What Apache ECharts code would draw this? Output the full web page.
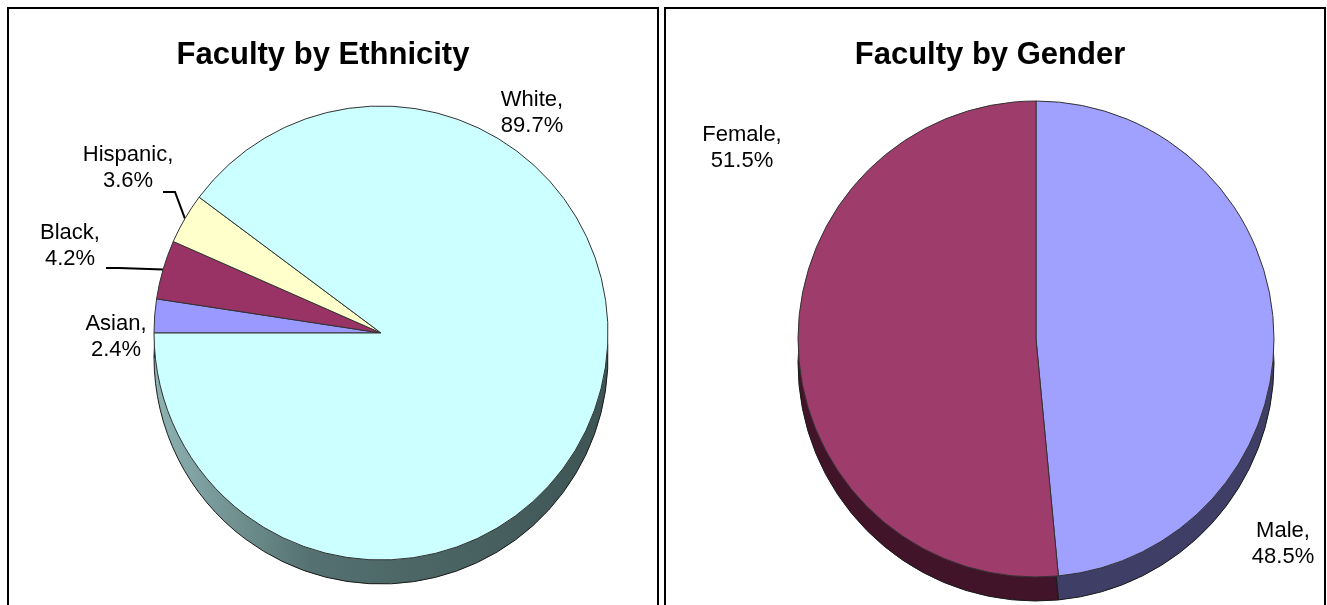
<!DOCTYPE html>
<html>
<head>
<meta charset="utf-8">
<script src="https://cdn.jsdelivr.net/npm/echarts@6/dist/echarts.min.js"></script>
<style>
  html, body { margin: 0; padding: 0; background: #fff; }
  #main { width: 1327px; height: 605px; }
</style>
</head>
<body>
<div id="main"></div>
<script>
var myChart = echarts.init(document.getElementById('main'));

// data
var ethnicNames = ['Asian', 'Black', 'Hispanic', 'White'];
var ethnicValues = [2.4, 4.2, 3.6, 89.7];
var genderNames = ['Male', 'Female'];
var genderValues = [48.5, 51.5];

var ethnicTop = ['#9999ff', '#993366', '#ffffcc', '#ccffff'];
var ethnicSide = ['#4c4c80', '#4a1631', '#80806a',
  { type: 'linear', x: 0, y: 0, x2: 1, y2: 0, colorStops: [
    { offset: 0, color: '#8fb3b3' }, { offset: 0.35, color: '#547070' }, { offset: 1, color: '#3e5454' }] }];
var genderTop = ['#a0a0ff', '#9e3c6b'];
var genderSide = ['#3e3e66', '#41142a'];

// where the labels sit (centre of text block) and leader line knees
var ethnicLabelPos = [
  { x: 116, y: 337 },
  { x: 70, y: 246, line: [[119, 268], [106, 268]] },
  { x: 128, y: 168, line: [[175, 192], [163, 192]] },
  { x: 532, y: 113 }
];
var genderLabelPos = [
  { x: 1283, y: 544 },
  { x: 742, y: 148 }
];

var FONT = '"Liberation Sans", Arial, sans-serif';
var depth = 24;
var leftPie = { center: [381, 333], r: 227 };
var rightPie = { center: [1036, 339], r: 238 };

function items(names, values, colors, hideLines) {
  return names.map(function (n, i) {
    var d = { name: n, value: values[i], itemStyle: { color: colors[i] } };
    if (hideLines && !hideLines[i]) d.labelLine = { show: false };
    return d;
  });
}

function layoutFn(pos) {
  return function (params) {
    var p = pos[params.dataIndex];
    var out = { x: p.x, y: p.y, align: 'center', verticalAlign: 'middle', hideOverlap: false };
    if (p.line && params.labelLinePoints) {
      out.labelLinePoints = [params.labelLinePoints[0]].concat(p.line);
    }
    return out;
  };
}

var labelStyle = {
  show: true,
  formatter: '{b},\n{c}%',
  fontFamily: FONT,
  fontSize: 22,
  lineHeight: 26,
  color: '#000',
  align: 'center',
  width: 130,
  overflow: 'none'
};

var option = {
  animation: false,
  graphic: [
    { type: 'rect', shape: { x: 8, y: 8, width: 650, height: 640 }, style: { fill: 'none', stroke: '#000', lineWidth: 2 }, z: 10 },
    { type: 'rect', shape: { x: 665, y: 8, width: 660, height: 640 }, style: { fill: 'none', stroke: '#000', lineWidth: 2 }, z: 10 },
    { type: 'text', x: 323, y: 55, style: { text: 'Faculty by Ethnicity', font: 'bold 31px ' + FONT, fill: '#000', textAlign: 'center', textVerticalAlign: 'middle' }, z: 10 },
    { type: 'text', x: 990, y: 55, style: { text: 'Faculty by Gender', font: 'bold 31px ' + FONT, fill: '#000', textAlign: 'center', textVerticalAlign: 'middle' }, z: 10 }
  ],
  series: [
    {
      // side wall of ethnicity pie
      type: 'pie', silent: true, z: 1,
      center: [leftPie.center[0], leftPie.center[1] + depth],
      radius: leftPie.r, startAngle: 180, clockwise: true,
      label: { show: false }, labelLine: { show: false },
      itemStyle: { borderColor: '#1a1a1a', borderWidth: 1 },
      data: items(ethnicNames, ethnicValues, ethnicSide)
    },
    {
      type: 'pie', silent: true, z: 2,
      center: leftPie.center,
      radius: leftPie.r, startAngle: 180, clockwise: true,
      avoidLabelOverlap: false,
      itemStyle: { borderColor: '#333', borderWidth: 1 },
      label: labelStyle,
      labelLine: { show: true, lineStyle: { color: '#000', width: 2 } },
      labelLayout: layoutFn(ethnicLabelPos),
      data: items(ethnicNames, ethnicValues, ethnicTop, [false, true, true, false])
    },
    {
      // side wall of gender pie
      type: 'pie', silent: true, z: 1,
      center: [rightPie.center[0], rightPie.center[1] + depth],
      radius: rightPie.r, startAngle: 90, clockwise: true,
      label: { show: false }, labelLine: { show: false },
      itemStyle: { borderColor: '#1a1a1a', borderWidth: 1 },
      data: items(genderNames, genderValues, genderSide)
    },
    {
      type: 'pie', silent: true, z: 2,
      center: rightPie.center,
      radius: rightPie.r, startAngle: 90, clockwise: true,
      avoidLabelOverlap: false,
      itemStyle: { borderColor: '#333', borderWidth: 1 },
      label: labelStyle,
      labelLine: { show: false },
      labelLayout: layoutFn(genderLabelPos),
      data: items(genderNames, genderValues, genderTop)
    }
  ]
};

myChart.setOption(option);
</script>
</body>
</html>
